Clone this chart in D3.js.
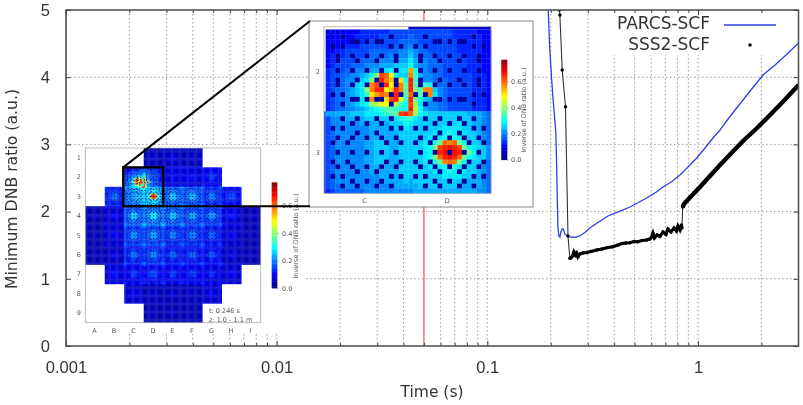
<!DOCTYPE html>
<html>
<head>
<meta charset="utf-8">
<script src="https://cdn.jsdelivr.net/npm/d3@7"></script>
<style>
  html, body { margin: 0; padding: 0; background: #fff; }
  svg { display: block; font-family: "DejaVu Sans", sans-serif; filter: blur(0.35px); }
  .grid line { stroke: #999; stroke-width: 1; stroke-dasharray: 1.5 2.5; }
  .main-axis path { display: none; }
  .main-axis line { stroke: #444; stroke-width: 1; }
  .main-axis text { font-size: 16.5px; fill: #333; }
  .map-label { font-size: 6.5px; fill: #555; }
</style>
</head>
<body>
<div id="chart"></div>
<script>
const w = 803;
const h = 405;

// main chart
const majorTicks = [0.001, 0.01, 0.1, 1];
const minorTicks = [
  0.002, 0.003, 0.004, 0.005, 0.006, 0.007, 0.008, 0.009,
  0.02, 0.03, 0.04, 0.05, 0.06, 0.07, 0.08, 0.09,
  0.2, 0.3, 0.4, 0.5, 0.6, 0.7, 0.8, 0.9, 2,
];
const yTicks = [0, 1, 2, 3, 4, 5];
const markerTime = 0.05;

const parcsTime = [
  0.1945, 0.198, 0.204, 0.2115, 0.2132, 0.2163, 0.2185, 0.221, 0.2235, 0.2267, 0.2296, 0.2334,
  0.2412, 0.2512, 0.2634, 0.2751, 0.2905, 0.307, 0.3349, 0.3736, 0.4214, 0.4753, 0.5706, 0.6248,
  0.6819, 0.7525, 0.8212, 0.8963, 0.9858, 1.08, 1.178, 1.272, 1.388, 1.527, 1.766, 2.036,
  2.322, 2.648, 3.0,
];
const parcsValue = [
  5.0, 4.4, 3.765, 3.17, 2.72, 1.77, 1.64, 1.62, 1.7, 1.745, 1.74, 1.667,
  1.63, 1.618, 1.62, 1.637, 1.69, 1.756, 1.838, 1.935, 2.0, 2.068, 2.202, 2.277,
  2.366, 2.448, 2.545, 2.664, 2.798, 2.946, 3.095, 3.214, 3.378, 3.542, 3.795, 4.033,
  4.182, 4.345, 4.509,
];

const sss2Time = [
  0.2198, 0.221, 0.2267, 0.235, 0.2415, 0.2465, 0.2493, 0.2534, 0.2576, 0.2618, 0.2653, 0.2691,
  0.2751, 0.2843, 0.297, 0.3103, 0.3302, 0.3499, 0.3736, 0.3946, 0.4169, 0.4355, 0.4549, 0.4753,
  0.4966, 0.5188, 0.542, 0.5706, 0.5915, 0.6027, 0.6113, 0.6214, 0.6388, 0.6599, 0.6819, 0.7047,
  0.7203, 0.7441, 0.7691, 0.7906, 0.8035, 0.8212, 0.8348, 0.8395, 0.8458, 0.8581, 0.9162, 1.022,
  1.14, 1.272, 1.419, 1.636, 1.907, 2.198, 2.59, 3.0,
];
const sss2Value = [
  5.0, 4.926, 4.107, 3.561, 1.637, 1.305, 1.31, 1.339, 1.403, 1.354, 1.384, 1.324,
  1.369, 1.384, 1.391, 1.406, 1.429, 1.443, 1.466, 1.478, 1.503, 1.525, 1.533, 1.537,
  1.555, 1.551, 1.57, 1.577, 1.592, 1.622, 1.682, 1.607, 1.652, 1.629, 1.696, 1.659,
  1.741, 1.696, 1.756, 1.711, 1.786, 1.726, 1.801, 1.756, 2.068, 2.113, 2.21, 2.366,
  2.53, 2.693, 2.85, 3.051, 3.244, 3.437, 3.668, 3.884,
];

// guide tube positions in one fuel assembly: [row, columns]
const pinsUpper = [
  [1, [3, 13]], [2, [5, 6, 8, 10, 11]], [3, [1, 3, 13, 15]], [5, [2, 5, 8, 11, 14]],
  [6, [2, 6, 10, 14]], [8, [2, 5, 8, 11, 14]], [10, [2, 6, 10, 14]], [11, [2, 5, 8, 11, 14]],
  [13, [1, 3, 13, 15]], [14, [5, 6, 8, 10, 11]], [15, [3, 13]],
];
const pinsLower = [
  [1, [3, 6, 10, 13]], [2, [5, 8, 11]], [3, [1, 3, 13, 15]], [4, [6, 10]], [5, [2, 5, 8, 11, 14]],
  [6, [1, 4, 12, 15]], [8, [2, 5, 8, 11, 14]], [10, [1, 4, 12, 15]], [11, [2, 5, 8, 11, 14]],
  [12, [6, 10]], [13, [1, 3, 13, 15]], [14, [5, 8, 11]], [15, [3, 6, 10, 13]],
];

const levelsC2 = [
  "33344445555556666", "33444455555666666", "44444555566666677", "44455556666667777",
  "44556666677777788", "45556666777778888", "45566677778888899", "45666777888999aaa",
  "56667788899abccbb", "56677889acfpojcaa", "5667889abg5qnl5kc", "567789abfnp5qj5ne",
  "567789abgnqqjlqne", "567789abdkmon5q5e", "567789ab5n55kpqid", "567789abcghjj5hdc",
  "56778899abcdeedcc",
];
const levelsD2 = [
  "66666666655555444", "76666666655555544", "77666666665555544", "88766666665555544",
  "98776666665555544", "a8877666666555544", "b9887766666655544", "c9887776666655544",
  "mc987776666655544", "nd988776666665554", "qd988777666665554", "qeadc877666665554",
  "qfenna87666665554", "o5e5nb87666665554", "qfca9877666665554", "pgb98877666665554",
  "qhc98877666665554",
];
const levelsC3 = [
  "99999aaabbbcdeepq", "68899999aaaaabbcd", "6888888999999aaac", "67888888899999aab",
  "678888888999999aa", "678888888999999aa", "6788888899aa999aa", "6788888899aaa99aa",
  "6788888899aaa99aa", "6788888899aaa99aa", "6788888899aa999aa", "678888888999999aa",
  "678888888999999aa", "6788888888899999a", "6788888888899999a", "67778888888889999",
  "56777777888888888",
];
const levelsD3 = [
  "ogcbaaaaaaaa99987", "dbaaaaaaaaaaa9987", "baaaaaaaaabaa9987", "aaaaaaabbbbaa9987",
  "aaaaabbbcbbbaa987", "aaaabbbcecbbaa987", "aaabbcfonofcbaa87", "aaabcfpqrqpfcbaa8",
  "aabbcfqrrrqofcba8", "aaabcfoqrqofcbaa8", "aaabbcfnonfcbaa87", "aaaabbbcecbbaa987",
  "aaaaabbbcbbbaa987", "aaaaaaabbbbaa9987", "9aaaaaaaaaaa99987", "99aaaaaaaaa999987",
  "89999999999999887",
];

// full core, mean value per assembly
const coreColumns = ["A", "B", "C", "D", "E", "F", "G", "H", "I"];
const coreRows = ["1", "2", "3", "4", "5", "6", "7", "8", "9"];
const coreMeans = [
  [null, null, null, 0.05, 0.06, 0.05, null, null, null],
  [null, null, 0.18, 0.15, 0.08, 0.08, 0.1, null, null],
  [null, 0.13, 0.2, 0.22, 0.18, 0.17, 0.14, 0.11, null],
  [0.04, 0.07, 0.18, 0.2, 0.18, 0.16, 0.15, 0.08, 0.04],
  [0.04, 0.07, 0.15, 0.16, 0.14, 0.14, 0.12, 0.07, 0.04],
  [0.04, 0.06, 0.13, 0.14, 0.12, 0.12, 0.11, 0.06, 0.04],
  [null, 0.08, 0.1, 0.11, 0.1, 0.1, 0.09, 0.07, null],
  [null, null, 0.07, 0.05, 0.05, 0.05, 0.07, null, null],
  [null, null, null, 0.04, 0.04, 0.04, null, null, null],
];
// how the power sits inside an assembly, 5 is the mean
const assemblyShape = [
  "96555555555555569", "65555555555555556", "55444445544444455", "55444555555544455",
  "55445566666554455", "55455677777655455", "55456788888765455", "55456789998765455",
  "55456789998765455", "55456789998765455", "55456788888765455", "55455677777655455",
  "55445566666554455", "55444555555544455", "55444445544444455", "65555555555555556",
  "96555555555555569",
];
const barTicks = [0, 0.2, 0.4, 0.6];
const barMax = 0.77;
const pinValue = 0.02;

const svg = d3.select("#chart").append("svg").attr("width", w).attr("height", h);

const plotLeft = 66, plotRight = 798.5, plotTop = 10, plotBottom = 346;
const x = d3.scaleLog().domain([0.001, 3]).range([plotLeft, plotRight]);
const y = d3.scaleLinear().domain([0, 5]).range([plotBottom, plotTop]);

const jet = d3.scaleLinear()
  .domain([0, 0.125, 0.375, 0.625, 0.875, 1].map((d) => d * barMax))
  .range(["#000080", "#0000ff", "#00ffff", "#ffff00", "#ff0000", "#800000"])
  .clamp(true);

// grid
svg.append("g").attr("class", "grid")
  .selectAll("line").data(majorTicks.concat(minorTicks)).enter().append("line")
  .attr("x1", (d) => x(d)).attr("x2", (d) => x(d)).attr("y1", plotTop).attr("y2", plotBottom);
svg.append("g").attr("class", "grid")
  .selectAll("line").data(yTicks.slice(1, 5)).enter().append("line")
  .attr("x1", plotLeft).attr("x2", plotRight).attr("y1", (d) => y(d)).attr("y2", (d) => y(d));

// marker line
svg.append("line")
  .attr("x1", x(markerTime)).attr("x2", x(markerTime)).attr("y1", plotTop).attr("y2", plotBottom)
  .attr("stroke", "#ff6666").attr("stroke-width", 1.3);

// white patches that hide the grid behind insets and legend
svg.append("rect").attr("x", plotLeft).attr("y", 146).attr("width", 240).attr("height", 187).attr("fill", "#fff");
svg.append("rect").attr("x", 597).attr("y", plotTop + 1).attr("width", 200).attr("height", 44).attr("fill", "#fff");

// curves
svg.append("clipPath").attr("id", "plot-clip").append("rect")
  .attr("x", plotLeft).attr("y", plotTop).attr("width", plotRight - plotLeft).attr("height", plotBottom - plotTop);

const line = d3.line().x((d) => x(d[0])).y((d) => y(d[1]));
const parcs = parcsTime.map((t, i) => [t, parcsValue[i]]);
const sss2 = sss2Time.map((t, i) => [t, sss2Value[i]]);
const curves = svg.append("g").attr("clip-path", "url(#plot-clip)");

curves.append("path").attr("d", line(parcs))
  .attr("fill", "none").attr("stroke", "#2f3fe8").attr("stroke-width", 1.3);
curves.append("path").attr("d", line(sss2))
  .attr("fill", "none").attr("stroke", "#333").attr("stroke-width", 1.1);
curves.append("path").attr("d", line(sss2.filter((d) => d[0] >= 0.2465 && d[0] < 0.84)))
  .attr("fill", "none").attr("stroke", "#000").attr("stroke-width", 3);
curves.append("path").attr("d", line(sss2.filter((d) => d[0] >= 0.8458)))
  .attr("fill", "none").attr("stroke", "#000").attr("stroke-width", 4.4);
curves.selectAll("circle").data(sss2).enter().append("circle")
  .attr("cx", (d) => x(d[0])).attr("cy", (d) => y(d[1])).attr("r", 1.7).attr("fill", "#000");

// frame and axes
svg.append("rect")
  .attr("x", plotLeft).attr("y", plotTop).attr("width", plotRight - plotLeft).attr("height", plotBottom - plotTop)
  .attr("fill", "none").attr("stroke", "#555").attr("stroke-width", 1.6);

const xAxis = d3.axisBottom(x).tickValues(majorTicks).tickFormat((d) => String(d)).tickSize(-5).tickPadding(15);
svg.append("g").attr("class", "main-axis").attr("transform", `translate(0,${plotBottom})`).call(xAxis);
const xAxisTop = d3.axisTop(x).tickValues(majorTicks).tickFormat("").tickSize(-5);
svg.append("g").attr("class", "main-axis").attr("transform", `translate(0,${plotTop})`).call(xAxisTop);
const xMinor = d3.axisBottom(x).tickValues(minorTicks).tickFormat("").tickSize(-3);
svg.append("g").attr("class", "main-axis").attr("transform", `translate(0,${plotBottom})`).call(xMinor);
const xMinorTop = d3.axisTop(x).tickValues(minorTicks).tickFormat("").tickSize(-3);
svg.append("g").attr("class", "main-axis").attr("transform", `translate(0,${plotTop})`).call(xMinorTop);
const yAxis = d3.axisLeft(y).tickValues(yTicks).tickFormat(d3.format("d")).tickSize(-5).tickPadding(16);
svg.append("g").attr("class", "main-axis").attr("transform", `translate(${plotLeft},0)`).call(yAxis);
const yAxisRight = d3.axisRight(y).tickValues(yTicks).tickFormat("").tickSize(-5);
svg.append("g").attr("class", "main-axis").attr("transform", `translate(${plotRight},0)`).call(yAxisRight);

svg.append("text").attr("x", 432).attr("y", 397).attr("text-anchor", "middle")
  .attr("font-size", 15.5).attr("fill", "#333").text("Time (s)");
svg.append("text").attr("transform", "translate(17,189) rotate(-90)").attr("text-anchor", "middle")
  .attr("font-size", 15.7).attr("fill", "#333").text("Minimum DNB ratio (a.u.)");

// legend
svg.append("text").attr("x", 710).attr("y", 29).attr("text-anchor", "end")
  .attr("font-size", 17).attr("fill", "#333").text("PARCS-SCF");
svg.append("text").attr("x", 710).attr("y", 50).attr("text-anchor", "end")
  .attr("font-size", 17).attr("fill", "#333").text("SSS2-SCF");
svg.append("line").attr("x1", 724).attr("x2", 776).attr("y1", 25).attr("y2", 25)
  .attr("stroke", "#2f3fe8").attr("stroke-width", 1.3);
svg.append("circle").attr("cx", 750).attr("cy", 45).attr("r", 1.8).attr("fill", "#000");

// heat map helpers
const fineLevels = { C2: levelsC2, D2: levelsD2, C3: levelsC3, D3: levelsD3 };

function isPin(rowIndex, col, row) {
  const list = rowIndex === 1 ? pinsUpper : pinsLower;
  return list.some((p) => p[0] === row && p[1].includes(col));
}

function assemblyCells(colIndex, rowIndex) {
  const key = coreColumns[colIndex] + coreRows[rowIndex];
  const cells = [];
  d3.range(17).forEach((r) => {
    d3.range(17).forEach((c) => {
      let v;
      if (fineLevels[key]) {
        v = parseInt(fineLevels[key][r][c], 36) * 0.025;
      } else {
        v = coreMeans[rowIndex][colIndex] * (0.5 + parseInt(assemblyShape[r][c], 10) / 10);
      }
      if (isPin(rowIndex, c, r)) v = pinValue;
      cells.push({ col: colIndex * 17 + c, row: rowIndex * 17 + r, value: v });
    });
  });
  return cells;
}

const defs = svg.append("defs");
defs.append("filter").attr("id", "soft-core").append("feGaussianBlur").attr("stdDeviation", 0.7);
defs.append("filter").attr("id", "soft-zoom").append("feGaussianBlur").attr("stdDeviation", 0.25);

function drawCells(group, cells, xs, ys) {
  group.selectAll("rect.cell").data(cells).enter().append("rect")
    .attr("class", "cell")
    .attr("x", (d) => xs(d.col)).attr("y", (d) => ys(d.row))
    .attr("width", xs.bandwidth() + 0.3).attr("height", ys.bandwidth() + 0.3)
    .attr("fill", (d) => jet(d.value));
}

function drawBar(px, width, yBottom, yTop, labelX, titleX, titleY) {
  const barY = d3.scaleLinear().domain([0, barMax]).range([yBottom, yTop]);
  const steps = d3.range(0, barMax, barMax / 64);
  svg.append("g").selectAll("rect").data(steps).enter().append("rect")
    .attr("x", px).attr("width", width)
    .attr("y", (d) => barY(d + barMax / 64) - 0.3)
    .attr("height", (yBottom - yTop) / 64 + 0.4)
    .attr("fill", (d) => jet(d));
  svg.append("g").selectAll("text").data(barTicks).enter().append("text")
    .attr("class", "map-label").attr("x", labelX).attr("y", (d) => barY(d) + 2.4)
    .text((d) => d.toFixed(1));
  svg.append("g").selectAll("line").data(barTicks).enter().append("line")
    .attr("x1", px + width).attr("x2", px + width + 1.5)
    .attr("y1", (d) => barY(d)).attr("y2", (d) => barY(d))
    .attr("stroke", "#555").attr("stroke-width", 0.5);
  svg.append("text").attr("class", "map-label")
    .attr("transform", `translate(${titleX},${titleY}) rotate(-90)`).attr("text-anchor", "middle")
    .text("Inverse of DNB ratio (a.u.)");
}

// core map
const coreX = d3.scaleBand().domain(d3.range(153)).range([85.3, 260.7]);
const coreY = d3.scaleBand().domain(d3.range(153)).range([148, 322.7]);
const coreCells = [];
coreMeans.forEach((row, ri) => row.forEach((m, ci) => {
  if (m !== null) coreCells.push(...assemblyCells(ci, ri));
}));
const coreGroup = svg.append("g").attr("filter", "url(#soft-core)");
drawCells(coreGroup, coreCells, coreX, coreY);
svg.append("rect").attr("x", 85.3).attr("y", 148).attr("width", 175.4).attr("height", 174.7)
  .attr("fill", "none").attr("stroke", "#aaa").attr("stroke-width", 0.8);

svg.append("g").selectAll("text").data(coreRows).enter().append("text")
  .attr("class", "map-label").attr("text-anchor", "end").attr("x", 81)
  .attr("y", (d, i) => coreY(i * 17 + 8) + 2.8).text((d) => d);
svg.append("g").selectAll("text").data(coreColumns).enter().append("text")
  .attr("class", "map-label").attr("text-anchor", "middle").attr("y", 332.5)
  .attr("x", (d, i) => coreX(i * 17 + 8)).text((d) => d);
svg.append("text").attr("class", "map-label").attr("x", 209).attr("y", 312.5).text("t: 0.246 s");
svg.append("text").attr("class", "map-label").attr("x", 209).attr("y", 321.5).text("z: 1.0 - 1.1 m");
drawBar(271.7, 5.6, 288.3, 182.7, 282, 298, 236);

// zoomed inset
svg.append("rect").attr("x", 309).attr("y", 21).attr("width", 224).attr("height", 186)
  .attr("fill", "#fff").attr("stroke", "#888").attr("stroke-width", 1);

const zoomX = d3.scaleBand().domain(d3.range(34, 68)).range([325.7, 491]);
const zoomY = d3.scaleBand().domain(d3.range(17, 51)).range([29.5, 193.3]);
const zoomCells = [];
[[2, 1], [3, 1], [2, 2], [3, 2]].forEach((a) => zoomCells.push(...assemblyCells(a[0], a[1])));

const zoomGroup = svg.append("g").attr("filter", "url(#soft-zoom)");
// slivers of the neighbouring assemblies at the edge of the view
zoomGroup.append("rect").attr("x", zoomX(51)).attr("y", 26.7)
  .attr("width", 491 - zoomX(51)).attr("height", zoomY(17) - 26.7).attr("fill", jet(0.05));
zoomGroup.append("rect").attr("x", 324).attr("y", zoomY(34))
  .attr("width", zoomX(34) - 324).attr("height", 193.3 - zoomY(34)).attr("fill", jet(0.12));
drawCells(zoomGroup, zoomCells, zoomX, zoomY);
svg.append("rect").attr("x", 324).attr("y", 26.7).attr("width", 167).attr("height", 166.6)
  .attr("fill", "none").attr("stroke", "#aaa").attr("stroke-width", 0.8);

svg.append("text").attr("class", "map-label").attr("text-anchor", "end").attr("x", 320).attr("y", 73.5).text("2");
svg.append("text").attr("class", "map-label").attr("text-anchor", "end").attr("x", 320).attr("y", 155).text("3");
svg.append("text").attr("class", "map-label").attr("text-anchor", "middle").attr("x", zoomX(42)).attr("y", 203).text("C");
svg.append("text").attr("class", "map-label").attr("text-anchor", "middle").attr("x", zoomX(59)).attr("y", 203).text("D");
drawBar(501.3, 6, 160, 60, 511, 526, 110);

// selection box and the lines that lead to the inset
const boxLeft = coreX(34) - 1;
const boxRight = coreX(68);
const boxTop = coreY(17);
const boxBottom = coreY(51);
svg.append("rect")
  .attr("x", boxLeft).attr("y", boxTop).attr("width", boxRight - boxLeft).attr("height", boxBottom - boxTop)
  .attr("fill", "none").attr("stroke", "#000").attr("stroke-width", 2.4);
svg.append("line").attr("x1", boxLeft).attr("y1", boxTop).attr("x2", 310).attr("y2", 21)
  .attr("stroke", "#000").attr("stroke-width", 2);
svg.append("line").attr("x1", boxRight).attr("y1", boxBottom).attr("x2", 310).attr("y2", boxBottom)
  .attr("stroke", "#000").attr("stroke-width", 2);
</script>
</body>
</html>
